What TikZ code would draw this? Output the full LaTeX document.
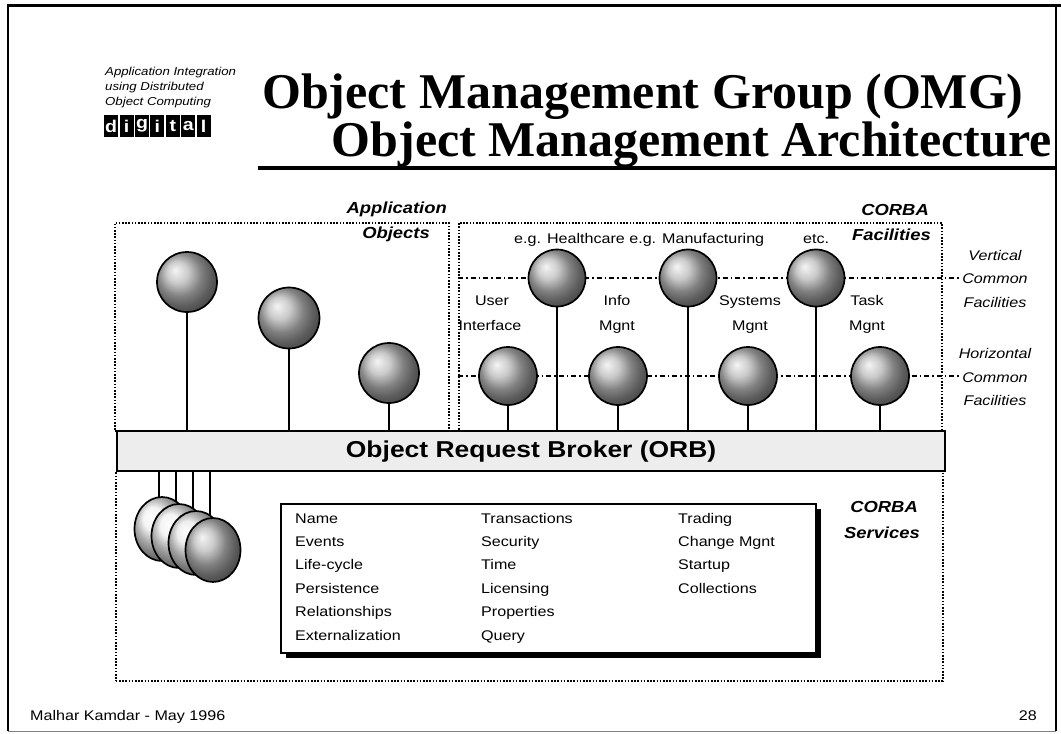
\documentclass[tikz,border=0pt]{standalone}
\usepackage{fontspec}
\setmainfont{Liberation Serif}
\newfontfamily\hsans{Liberation Sans}[FakeStretch=1.15]
\usetikzlibrary{shapes.geometric,shadows}
\begin{document}
\begin{tikzpicture}[x=1pt,y=-1pt,
  dotbox/.style={draw, line width=1.7pt, dash pattern=on 1.6pt off 1.6pt, inner sep=0pt, anchor=north west},
  dashdot/.style={line width=1.3pt, dash pattern=on 5pt off 3pt on 1.6pt off 3pt},
  globe/.style={circle, draw, line width=1.7pt, inner sep=0pt, minimum size=#1, shading=ball, ball color=gray!55},
  stacked/.style={ellipse, draw, line width=1.7pt, inner sep=0pt, minimum width=55pt, minimum height=64pt, shading=ball, ball color=#1},
  stem/.style={line width=1.5pt},
  txt/.style={font=\hsans\fontsize{14}{16}\selectfont, inner sep=0pt},
  itxt/.style={font=\hsans\itshape\fontsize{14}{16}\selectfont, inner sep=0pt},
  bitxt/.style={font=\hsans\bfseries\itshape\fontsize{16}{18}\selectfont, inner sep=0pt},
  small/.style={font=\hsans\itshape\fontsize{11.5}{13}\selectfont, inner sep=0pt, anchor=base west},
  ttl/.style={font=\bfseries\fontsize{50}{56}\selectfont, inner sep=0pt},
  logobox/.style={fill=black, minimum width=14pt, minimum height=22pt, inner sep=0pt, text=white, font=\hsans\bfseries\fontsize{17}{17}\selectfont, anchor=north west},
  svcitem/.style={txt, anchor=base west}
]
\useasboundingbox (0,0) rectangle (1061,734);

% page frame
\draw[line width=3pt] (7,5) -- (1061,5);
\draw[line width=2.5pt] (8,5) -- (8,731);
\draw[line width=2pt] (1056,5) -- (1056,731);
\draw[line width=0.8pt, gray] (8,731) -- (1056,731);

% header
\node[small] (h1) at (105,75) {Application Integration};
\node[small] (h2) at (105,90) {using Distributed};
\node[small] (h3) at (105,105) {Object Computing};
\foreach \l [count=\i from 0] in {d,i,g,i,t,a,l}
  \node[logobox] (logo\i) at (104+15.4*\i,115) {\l};

\node[ttl, anchor=base west] (t1) at (262,108) {Object Management Group (OMG)};
\node[ttl, anchor=base east] (t2) at (1052,156) {Object Management Architecture};
\draw[line width=4.5pt] (258,168) -- (1057,168);

% dotted groups
\node[dotbox, minimum width=334pt, minimum height=208pt] (app) at (114,222) {};
\node[dotbox, minimum width=483pt, minimum height=208pt] (fac) at (458,222) {};
\node[dotbox, minimum width=827pt, minimum height=210pt] (srv) at (115,470) {};

% group labels
\node[bitxt, anchor=base east] (lapp1) at (447,213) {Application};
\node[bitxt, anchor=base east] (lapp2) at (430,238) {Objects};
\node[bitxt, anchor=base east] (lfac1) at (929,215) {CORBA};
\node[bitxt, anchor=base east] (lfac2) at (931,240) {Facilities};
\node[bitxt, anchor=base east] (lsrv1) at (918,512) {CORBA};
\node[bitxt, anchor=base east] (lsrv2) at (920,538) {Services};

% facility texts
\node[txt, anchor=base west] (eg) at (514,243) {e.g. Healthcare e.g. Manufacturing};
\node[txt, anchor=base west] (etc) at (803,243) {etc.};
\node[txt, anchor=base] (ui1) at (492,305) {User};
\node[txt, anchor=base] (ui2) at (490,330) {Interface};
\node[txt, anchor=base] (im1) at (617,305) {Info};
\node[txt, anchor=base] (im2) at (617,330) {Mgnt};
\node[txt, anchor=base] (sm1) at (750,305) {Systems};
\node[txt, anchor=base] (sm2) at (750,330) {Mgnt};
\node[txt, anchor=base] (tm1) at (867,305) {Task};
\node[txt, anchor=base] (tm2) at (867,330) {Mgnt};

% level labels on the right
\node[itxt, anchor=base] (vc1) at (995,260) {Vertical};
\node[itxt, anchor=base] (vc2) at (995,283) {Common};
\node[itxt, anchor=base] (vc3) at (995,307) {Facilities};
\node[itxt, anchor=base] (hc1) at (995,358) {Horizontal};
\node[itxt, anchor=base] (hc2) at (995,382) {Common};
\node[itxt, anchor=base] (hc3) at (995,405) {Facilities};

% object request broker
\node[draw, line width=2.2pt, fill=gray!14, minimum width=828pt, minimum height=40pt, inner sep=0pt, anchor=north west,
      font=\hsans\bfseries\fontsize{23}{25}\selectfont] (orb) at (116,430) {Object Request Broker (ORB)};

% facility levels
\coordinate (vlev) at (0,278);
\coordinate (hlev) at (0,376);
\draw[dashdot] (fac.west |- vlev) -- ([xshift=-2pt]vc2.west |- vlev);
\draw[dashdot] (fac.west |- hlev) -- ([xshift=-2pt]hc2.west |- hlev);

% application objects
\node[globe=60pt] (a1) at (187,282) {};
\node[globe=61pt] (a2) at (289,318) {};
\node[globe=60pt] (a3) at (389,373) {};
\foreach \n in {a1,a2,a3}
  \draw[stem] (\n.south) -- (\n.south |- orb.north);

% vertical common facilities
\node[globe=57pt] (v1) at (557,278) {};
\node[globe=57pt] (v2) at (688,278) {};
\node[globe=57pt] (v3) at (816,278) {};
% horizontal common facilities
\node[globe=58pt] (f1) at (508,376) {};
\node[globe=58pt] (f2) at (618,376) {};
\node[globe=58pt] (f3) at (748,376) {};
\node[globe=58pt] (f4) at (880,376) {};
\foreach \n in {v1,v2,v3,f1,f2,f3,f4}
  \draw[stem] (\n.south) -- (\n.south |- orb.north);

% stacked service objects
\coordinate (c1) at (162,529);
\coordinate (c2) at (179,536);
\coordinate (c3) at (196,543);
\coordinate (c4) at (213,550);
\foreach \c in {c1,c2,c3,c4}
  \draw[stem] ([xshift=-3pt]\c |- orb.south) -- ([xshift=-3pt,yshift=-28pt]\c);
\node[stacked=gray!12] (s1) at (c1) {};
\node[stacked=gray!12] (s2) at (c2) {};
\node[stacked=gray!18] (s3) at (c3) {};
\node[stacked=gray!55] (s4) at (c4) {};

% service list
\node[draw, line width=1.6pt, fill=white, minimum width=535pt, minimum height=149pt, inner sep=0pt, anchor=north west,
      drop shadow={shadow xshift=5pt, shadow yshift=-5pt, opacity=1, fill=black}] (svc) at (280,503) {};
\node[svcitem] (n1) at (295,523) {Name};
\node[svcitem] (n2) at (295,546) {Events};
\node[svcitem] (n3) at (295,569) {Life-cycle};
\node[svcitem] (n4) at (295,593) {Persistence};
\node[svcitem] (n5) at (295,616) {Relationships};
\node[svcitem] (n6) at (295,640) {Externalization};
\node[svcitem] (m1) at (481,523) {Transactions};
\node[svcitem] (m2) at (481,546) {Security};
\node[svcitem] (m3) at (481,569) {Time};
\node[svcitem] (m4) at (481,593) {Licensing};
\node[svcitem] (m5) at (481,616) {Properties};
\node[svcitem] (m6) at (481,640) {Query};
\node[svcitem] (r1) at (678,523) {Trading};
\node[svcitem] (r2) at (678,546) {Change Mgnt};
\node[svcitem] (r3) at (678,569) {Startup};
\node[svcitem] (r4) at (678,593) {Collections};

% footer
\node[txt, anchor=base west] (foot) at (30,720) {Malhar Kamdar - May 1996};
\node[txt, anchor=base east] (page) at (1037,720) {28};
\end{tikzpicture}
\end{document}
